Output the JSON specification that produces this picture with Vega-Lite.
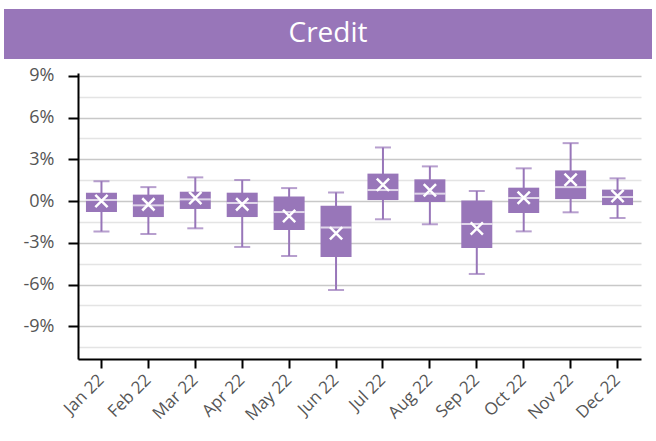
{
  "$schema": "https://vega.github.io/schema/vega-lite/v6.json",
  "padding": {"left": 4, "top": 9, "right": 4, "bottom": 0},
  "background": "white",
  "spacing": 7,
  "config": {
    "font": "Open Sans",
    "view": {"stroke": null},
    "axis": {"labelFont": "Open Sans", "labelColor": "#555555"}
  },
  "vconcat": [
    {
      "width": 648,
      "height": 50,
      "view": {"fill": "#9876b9", "stroke": null},
      "data": {"values": [{"title": "Credit"}]},
      "mark": {"type": "text", "color": "white", "fontSize": 28, "font": "Open Sans", "baseline": "middle", "align": "center"},
      "encoding": {"text": {"field": "title"}}
    },
    {
      "spacing": 0,
      "hconcat": [
        {
          "width": 1,
          "height": 1,
          "data": {"values": []},
          "mark": "point"
        },
        {
          "width": 563,
          "height": 286,
          "data": {
            "values": [
              {"month": "Jan 22", "min": -2.18, "q1": -0.79, "median": 0.07, "q3": 0.6, "max": 1.43, "mean": 0.0},
              {"month": "Feb 22", "min": -2.37, "q1": -1.15, "median": -0.31, "q3": 0.46, "max": 1.0, "mean": -0.24},
              {"month": "Mar 22", "min": -1.96, "q1": -0.57, "median": 0.12, "q3": 0.67, "max": 1.7, "mean": 0.22},
              {"month": "Apr 22", "min": -3.3, "q1": -1.15, "median": -0.14, "q3": 0.6, "max": 1.51, "mean": -0.24},
              {"month": "May 22", "min": -3.95, "q1": -2.08, "median": -0.79, "q3": 0.32, "max": 0.93, "mean": -1.08},
              {"month": "Jun 22", "min": -6.39, "q1": -4.02, "median": -1.91, "q3": -0.33, "max": 0.62, "mean": -2.32},
              {"month": "Jul 22", "min": -1.31, "q1": 0.07, "median": 0.79, "q3": 1.97, "max": 3.85, "mean": 1.17},
              {"month": "Aug 22", "min": -1.67, "q1": -0.07, "median": 0.53, "q3": 1.56, "max": 2.49, "mean": 0.77},
              {"month": "Sep 22", "min": -5.24, "q1": -3.37, "median": -1.65, "q3": 0.03, "max": 0.72, "mean": -1.98},
              {"month": "Oct 22", "min": -2.18, "q1": -0.86, "median": 0.22, "q3": 0.96, "max": 2.35, "mean": 0.24},
              {"month": "Nov 22", "min": -0.81, "q1": 0.14, "median": 1.0, "q3": 2.2, "max": 4.16, "mean": 1.53},
              {"month": "Dec 22", "min": -1.22, "q1": -0.29, "median": 0.29, "q3": 0.82, "max": 1.63, "mean": 0.36}
            ]
          },
          "encoding": {
            "x": {
              "field": "month", "type": "nominal", "sort": null, "title": null,
              "scale": {"paddingInner": 0, "paddingOuter": 0},
              "axis": {
                "labelAngle": -45, "labelFontSize": 17, "labelAlign": "right", "labelBaseline": "middle",
                "labelPadding": 9,
                "domainColor": "black", "domainWidth": 2,
                "tickColor": "black", "tickWidth": 2, "tickSize": 9
              }
            }
          },
          "layer": [
            {
              "mark": {"type": "rule", "color": "#9876b9", "strokeWidth": 2},
              "encoding": {
                "y": {
                  "field": "min", "type": "quantitative", "title": null,
                  "scale": {"domain": [-11.35, 9.2], "nice": false, "zero": false},
                  "axis": {
                    "values": [-10.5, -9, -7.5, -6, -4.5, -3, -1.5, 0, 1.5, 3, 4.5, 6, 7.5, 9],
                    "tickCount": 30,
                    "labelExpr": "round(datum.value*10) % 30 == 0 ? round(datum.value) + '%' : ''",
                    "labelOverlap": false, "labelFlush": false,
                    "labelFontSize": 18, "labelPadding": 14,
                    "minExtent": 73,
                    "domainColor": "black", "domainWidth": 2,
                    "tickSize": 10, "tickWidth": 2,
                    "tickColor": {"condition": {"test": "round(datum.value*10) % 30 == 0", "value": "black"}, "value": "transparent"},
                    "grid": true, "gridWidth": 1.6,
                    "gridColor": {"condition": {"test": "round(datum.value*10) % 30 == 0", "value": "#c8c8c8"}, "value": "#e4e4e4"}
                  }
                },
                "y2": {"field": "max"}
              }
            },
            {
              "mark": {"type": "tick", "color": "#9876b9", "thickness": 2, "size": 16},
              "encoding": {"y": {"field": "min", "type": "quantitative"}}
            },
            {
              "mark": {"type": "tick", "color": "#9876b9", "thickness": 2, "size": 16},
              "encoding": {"y": {"field": "max", "type": "quantitative"}}
            },
            {
              "mark": {"type": "bar", "color": "#9876b9", "width": 31},
              "encoding": {"y": {"field": "q1", "type": "quantitative"}, "y2": {"field": "q3"}}
            },
            {
              "mark": {"type": "tick", "color": "white", "thickness": 2, "size": 31},
              "encoding": {"y": {"field": "median", "type": "quantitative"}}
            },
            {
              "mark": {"type": "point", "shape": "M-1,-1L1,1M1,-1L-1,1", "filled": false, "stroke": "white", "strokeWidth": 2.5, "size": 150, "opacity": 1},
              "encoding": {"y": {"field": "mean", "type": "quantitative"}}
            }
          ]
        }
      ]
    }
  ]
}
